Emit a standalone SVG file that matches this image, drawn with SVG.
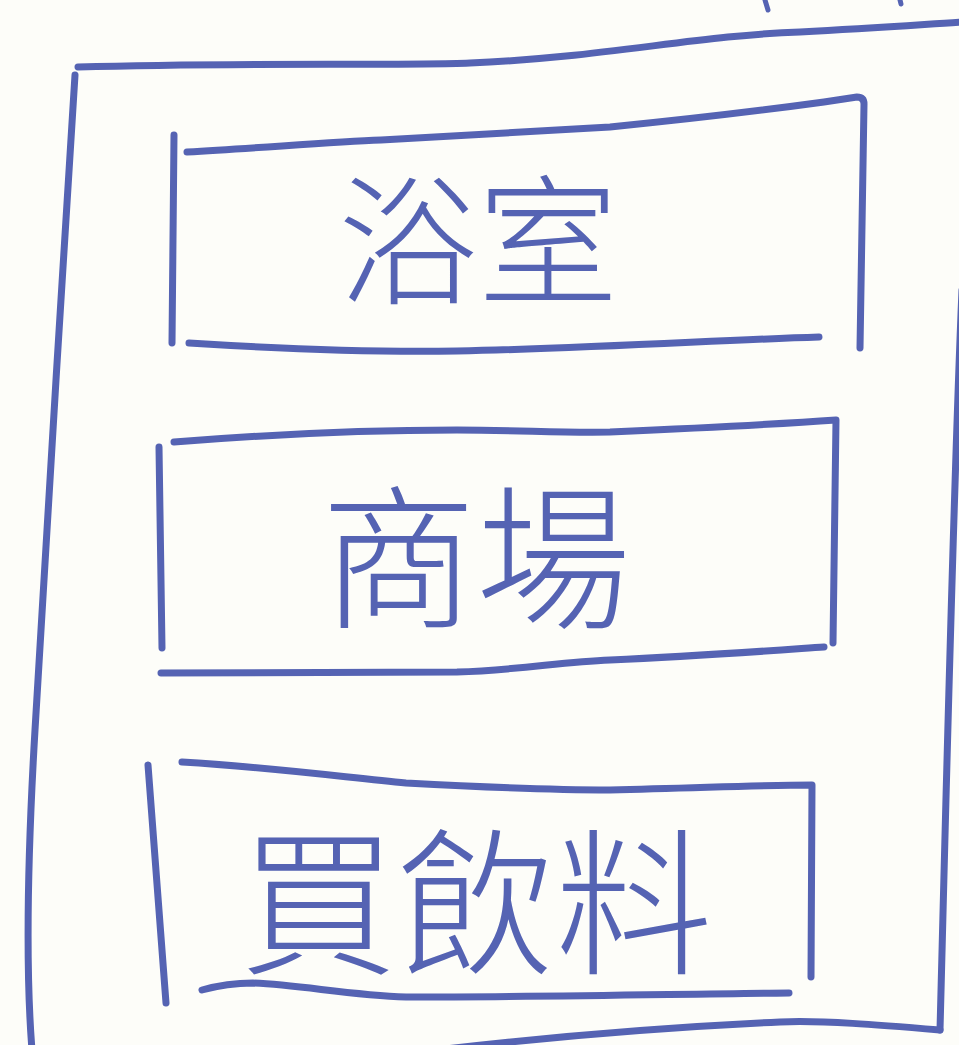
<svg xmlns="http://www.w3.org/2000/svg" width="959" height="1045" viewBox="0 0 959 1045">
  <style>
    .pen { fill: none; stroke: #5563b3; stroke-width: 7; stroke-linecap: round; stroke-linejoin: round; }
    .thin { stroke-width: 5; }
    .label { fill: #5563b3; font-family: "Noto Sans CJK TC", "Noto Sans CJK SC", sans-serif; font-weight: 300; text-anchor: middle; dominant-baseline: central; }
  </style>
  <rect x="0" y="0" width="959" height="1045" fill="#fdfdf9"/>
  <g id="outer-frame">
    <path class="pen" d="M78,67 C250,62 400,66 470,63 C600,58 700,35 800,32 C880,28 930,24 965,22"/>
    <path class="pen" d="M75,75 C62,300 47,500 35,730 C25,900 28,1000 32,1050"/>
    <path class="pen" d="M962,290 C953,500 946,800 940,1030"/>
    <path class="pen" d="M940,1030 C880,1025 820,1020 780,1022 C650,1028 520,1040 420,1052"/>
    <path class="pen thin" d="M765,0 L768,10"/>
    <path class="pen thin" d="M900,0 L901,4"/>
  </g>
  <g id="node-bathroom">
    <path class="pen" d="M187,152 C260,148 330,142 381,140 C480,134 560,130 610,127 C700,118 780,108 824,102 L857,97 Q864,97 864,104 L860,348"/>
    <path class="pen" d="M174,135 L172,343"/>
    <path class="pen" d="M189,343 C300,350 400,352 457,351 C600,348 720,340 819,337"/>
    <text class="label" x="478" y="232" font-size="140">浴室</text>
  </g>
  <g id="node-mall">
    <path class="pen" d="M174,442 C300,432 400,430 457,430 C520,430 560,433 610,432 C700,428 780,424 836,420 L833,643"/>
    <path class="pen" d="M159,447 L162,648"/>
    <path class="pen" d="M161,673 C300,673 400,673 457,672 C520,670 560,662 610,660 C700,656 780,650 824,647"/>
    <text class="label" x="476" y="548" font-size="155">商場</text>
  </g>
  <g id="node-drinks">
    <path class="pen" d="M182,762 C280,768 350,778 406,783 C480,787 550,790 610,790 C700,788 760,785 812,785 L811,977"/>
    <path class="pen" d="M148,765 L166,1003"/>
    <path class="pen" d="M202,990 C220,985 240,983 253,983 C300,985 350,995 406,997 C550,997 680,994 789,993"/>
    <text class="label" x="476" y="893" font-size="158">買飲料</text>
  </g>
  <g id="connectors"/>
</svg>
